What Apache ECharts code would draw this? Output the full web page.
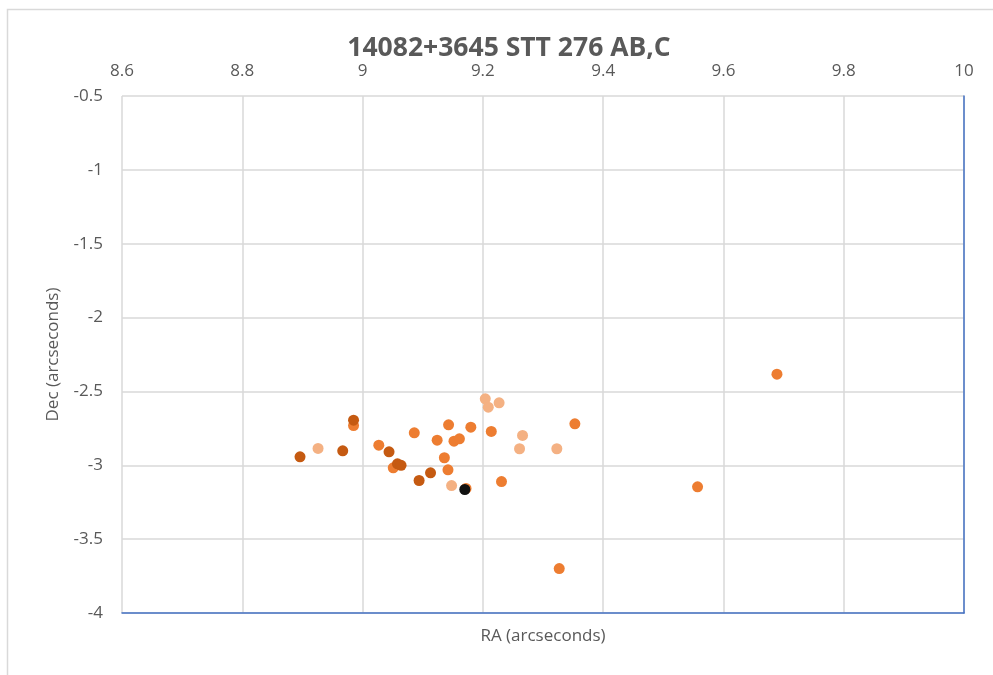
<!DOCTYPE html>
<html>
<head>
<meta charset="utf-8">
<script src="https://cdn.jsdelivr.net/npm/echarts@6/dist/echarts.min.js"></script>
<style>
  html, body { margin: 0; padding: 0; background: #fff; }
  #chart { width: 993px; height: 675px; }
</style>
</head>
<body>
<div id="chart"></div>
<script>
const titleText = "14082+3645 STT 276 AB,C";
const xName = "RA (arcseconds)";
const yName = "Dec (arcseconds)";
const xTicks = [8.6, 8.8, 9, 9.2, 9.4, 9.6, 9.8, 10];
const yTicks = [-4, -3.5, -3, -2.5, -2, -1.5, -1, -0.5];

// [RA, Dec] pairs
const lightPts = [
  [8.926, -2.886], [9.148, -3.137], [9.204, -2.550], [9.209, -2.607],
  [9.227, -2.577], [9.261, -2.888], [9.266, -2.798], [9.323, -2.888]
];
const mediumPts = [
  [8.985, -2.731], [9.027, -2.864], [9.051, -3.017], [9.086, -2.780],
  [9.124, -2.830], [9.136, -2.949], [9.142, -3.031], [9.143, -2.726],
  [9.152, -2.837], [9.161, -2.821], [9.172, -3.157], [9.180, -2.742],
  [9.214, -2.771], [9.231, -3.110], [9.353, -2.719], [9.557, -3.146],
  [9.689, -2.383], [9.327, -3.699]
];
const darkPts = [
  [8.896, -2.943], [8.967, -2.902], [8.985, -2.695], [9.044, -2.909],
  [9.058, -2.990], [9.064, -3.000], [9.094, -3.103], [9.113, -3.051]
];
const lastPt = [[9.170, -3.164]];

const textColor = "#595959";
const gridColor = "#d9d9d9";
const axisBlue = "#4472C4";
const font = "Open Sans";

const chart = echarts.init(document.getElementById("chart"));

function dots(data, color) {
  return {
    type: "scatter",
    data: data,
    symbol: "circle",
    symbolSize: 11,
    xAxisIndex: 0,
    yAxisIndex: 0,
    itemStyle: { color: color, opacity: 1 },
  };
}

const xMin = xTicks[0], xMax = xTicks[xTicks.length - 1];
const yMin = yTicks[0], yMax = yTicks[yTicks.length - 1];

chart.setOption({
  animation: false,
  backgroundColor: "#fff",
  textStyle: { fontFamily: font },
  graphic: [
    {
      type: "rect",
      shape: { x: 7.5, y: 9.5, width: 1100, height: 800 },
      style: { fill: "none", stroke: gridColor, lineWidth: 1.5 },
      silent: true,
      z: -10,
    },
  ],
  title: {
    text: titleText,
    left: 504,
    textAlign: "center",
    top: 30,
    textStyle: { color: textColor, fontSize: 26.5, fontWeight: "bold", fontFamily: font },
  },
  grid: { left: 122, right: 29, top: 96, bottom: 62 },
  xAxis: [
    {
      type: "value",
      position: "top",
      min: xMin,
      max: xMax,
      interval: 0.2,
      axisLine: { show: false },
      axisTick: { show: false },
      axisLabel: { color: textColor, fontSize: 17, margin: 16 },
      splitLine: { show: true, lineStyle: { color: gridColor, width: 1.5 } },
    },
    {
      type: "value",
      position: "bottom",
      min: xMin,
      max: xMax,
      interval: 0.2,
      name: xName,
      nameLocation: "middle",
      nameGap: 15,
      nameTextStyle: { color: textColor, fontSize: 17 },
      axisLine: { show: true, onZero: false, lineStyle: { color: axisBlue, width: 1.5 } },
      axisTick: { show: false },
      axisLabel: { show: false },
      splitLine: { show: false },
    },
  ],
  yAxis: [
    {
      type: "value",
      position: "left",
      min: yMin,
      max: yMax,
      interval: 0.5,
      name: yName,
      nameLocation: "middle",
      nameGap: 60,
      nameTextStyle: { color: textColor, fontSize: 17 },
      axisLine: { show: false },
      axisTick: { show: false },
      axisLabel: { color: textColor, fontSize: 17, margin: 19 },
      splitLine: { show: true, lineStyle: { color: gridColor, width: 1.5 } },
    },
    {
      type: "value",
      position: "right",
      min: yMin,
      max: yMax,
      interval: 0.5,
      axisLine: { show: true, onZero: false, lineStyle: { color: axisBlue, width: 1.5 } },
      axisTick: { show: false },
      axisLabel: { show: false },
      splitLine: { show: false },
    },
  ],
  series: [
    dots(lightPts, "#F4B183"),
    dots(mediumPts, "#ED7D31"),
    dots(darkPts, "#C55A11"),
    dots(lastPt, "#111111"),
  ],
});
</script>
</body>
</html>
